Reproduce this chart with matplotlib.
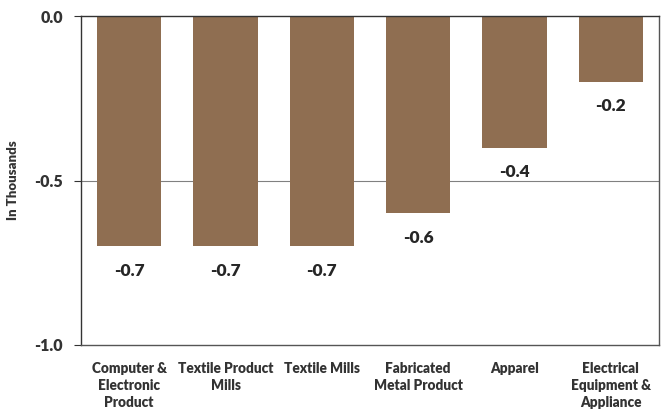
import matplotlib
matplotlib.use("Agg")
import matplotlib.pyplot as plt

categories = ["Computer &\nElectronic\nProduct", "Textile Product\nMills", "Textile Mills",
              "Fabricated\nMetal Product", "Apparel", "Electrical\nEquipment &\nAppliance"]
values = [-0.7, -0.7, -0.7, -0.6, -0.4, -0.2]
yticks = [0.0, -0.5, -1.0]
ytick_labels = ["0.0", "-0.5", "-1.0"]

plt.rcParams['font.family'] = ['Lato', 'DejaVu Sans']
W = 800
fig = plt.figure(figsize=(6.63, 4.16), dpi=100)
ax = fig.add_axes([0.1222, 0.1707, 0.8718, 0.7908])

x = list(range(len(categories)))
ax.bar(x, values, width=0.67, color="#8F6E51", zorder=2)
ax.set_ylim(-1.0, 0.0)
ax.set_xlim(-0.5, len(categories) - 0.5)
ax.axhline(-0.5, color="#808080", lw=0.8, zorder=1)

for xi, v in zip(x, values):
    ax.text(xi, v - 0.05, f"{v:.1f}", ha="center", va="top", fontsize=12.5,
            fontweight=W, color="#262626")

ax.set_yticks(yticks)
ax.set_yticklabels(ytick_labels, fontsize=11.5, fontweight=W, color="#333333")
ax.set_xticks(x)
ax.set_xticklabels(categories, fontsize=9.8, fontweight=W, color="#333333", linespacing=1.4)
ax.tick_params(axis="x", length=0, pad=12)
ax.tick_params(axis="y", length=5, direction="out", color="#333333", pad=8)
ax.set_ylabel("In Thousands", fontsize=9.5, fontweight=W, color="#333333", labelpad=11)

for side in ["left", "right", "top", "bottom"]:
    ax.spines[side].set_color("#333333")
    ax.spines[side].set_linewidth(1.0)
ax.spines["right"].set_color("#555555")
ax.spines["bottom"].set_color("#555555")

fig.savefig("out.png", dpi=100)
